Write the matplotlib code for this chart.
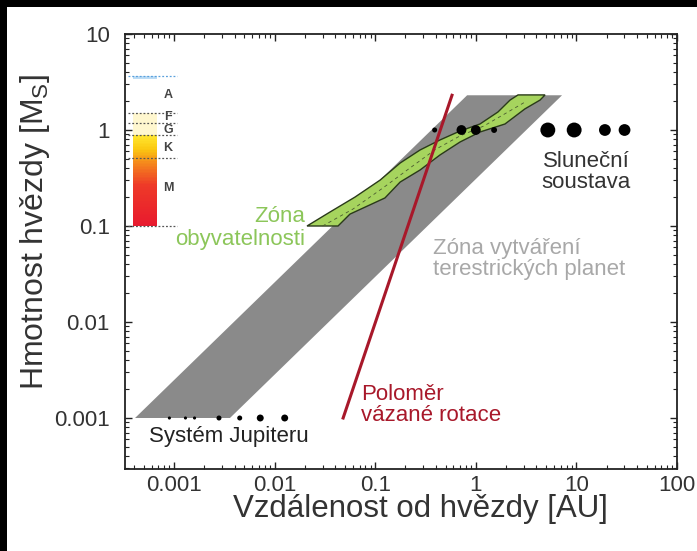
import numpy as np
import matplotlib
matplotlib.use("Agg")
import matplotlib.pyplot as plt
from matplotlib.colors import LinearSegmentedColormap
from matplotlib.patches import Rectangle

plt.rcParams['font.family'] = ['Liberation Sans', 'DejaVu Sans']

# ---------------- data ----------------
# terrestrial planet formation zone (parallelogram) [AU, Msun]
band_x = [0.00041, 0.0036, 7.2, 0.82]
band_y = [0.001, 0.001, 2.3, 2.3]

# habitable zone outline
hz_x = [0.0210, 0.0356, 0.0629, 0.112, 0.177, 0.279, 0.440, 0.697, 1.10, 1.66, 2.19, 2.63, 4.88,
        4.35, 3.08, 1.95, 1.10, 0.697, 0.440, 0.279, 0.177, 0.125, 0.0561, 0.0427]
hz_y = [0.100, 0.140, 0.200, 0.301, 0.453, 0.619, 0.787, 0.976, 1.155, 1.54, 2.05, 2.32, 2.32,
        2.05, 1.66, 1.155, 0.953, 0.750, 0.549, 0.383, 0.287, 0.196, 0.133, 0.100]
hz_mid_x = [0.03, 0.06, 0.12, 0.22, 0.4, 0.7, 1.2, 2.0, 3.2]
hz_mid_y = [0.1, 0.15, 0.25, 0.40, 0.63, 0.87, 1.10, 1.50, 2.0]

# tidal locking radius
tidal_x = [0.048, 0.58]
tidal_y = [0.001, 2.3]

# Solar system planets (AU), at 1 Msun
sol_x = [0.39, 0.72, 1.0, 1.52, 5.2, 9.5, 19.2, 30.1]
sol_y = [1, 1, 1, 1, 1, 1, 1, 1]
sol_s = [13, 50, 50, 18, 115, 115, 72, 72]

# Jupiter system moons (AU), at 0.001 Msun
jup_x = [0.0009, 0.0013, 0.0016, 0.0028, 0.0045, 0.0072, 0.0126]
jup_y = [0.001] * 7
jup_s = [5, 5, 5, 13, 13, 25, 25]

# stellar spectral classes
class_lines = [3.65, 1.50, 1.18, 0.89, 0.51, 0.1]
class_labels = ['A', 'F', 'G', 'K', 'M']
class_label_y = [2.3, 1.36, 1.0, 0.65, 0.25]
bar_x = [0.00039, 0.00067]
bar_y = [0.1, 0.89]

xticks = [0.001, 0.01, 0.1, 1, 10, 100]
xticklabels = ['0.001', '0.01', '0.1', '1', '10', '100']
yticks = [0.001, 0.01, 0.1, 1, 10]
yticklabels = ['0.001', '0.01', '0.1', '1', '10']

# ---------------- figure ----------------
fig = plt.figure(figsize=(6.97, 5.51), dpi=100)
fig.patch.set_facecolor('white')
# black border strips (left and top)
fig.patches.append(Rectangle((0, 0), 7 / 697, 1, transform=fig.transFigure,
                             facecolor='black', edgecolor='none', zorder=-10))
fig.patches.append(Rectangle((0, 1 - 7 / 551), 1, 7 / 551, transform=fig.transFigure,
                             facecolor='black', edgecolor='none', zorder=-10))

ax = fig.add_axes([125 / 697, 1 - 469 / 551, (677 - 125) / 697, (469 - 34) / 551])
ax.set_xscale('log')
ax.set_yscale('log')
ax.set_xlim(10 ** (-3 - 49 / 100.6), 100)
ax.set_ylim(10 ** (-3 - 51 / 96), 10)

# gray band
ax.fill(band_x, band_y, color='#8a8a8a', lw=0, zorder=1)

# habitable zone
ax.fill(hz_x, hz_y, facecolor='#a6d45e', edgecolor='#2a3a1a', lw=1.0, zorder=2)
ax.plot(hz_mid_x, hz_mid_y, color='#4a5a30', lw=0.6, ls=(0, (4, 4)), zorder=3)

# tidal locking line
ax.plot(tidal_x, tidal_y, color='#a8182a', lw=2.2, zorder=4)

# planets and moons
ax.scatter(sol_x, sol_y, s=sol_s, color='black', zorder=5, lw=0)
ax.scatter(jup_x, jup_y, s=jup_s, color='black', zorder=5, lw=0)

# spectral class bar
cmap = LinearSegmentedColormap.from_list(
    'star', [(0.0, '#e81a2e'), (0.45, '#ee3a28'), (0.7, '#f58a1c'), (0.85, '#fbc810'), (1.0, '#ffe630')])
yy = np.logspace(np.log10(bar_y[0]), np.log10(bar_y[1]), 60)
xx = np.array(bar_x)
C = np.linspace(0, 1, len(yy) - 1).reshape(-1, 1)
ax.pcolormesh(xx, yy, C, cmap=cmap, shading='flat', zorder=3)
ax.fill_between(bar_x, [bar_y[1]] * 2, [class_lines[1]] * 2, color='#fff3b0', alpha=0.6, lw=0, zorder=3)
ax.fill_between(bar_x, [class_lines[0] * 0.93] * 2, [class_lines[0]] * 2, color='#bcdcf5', lw=0, zorder=3)
for i, yv in enumerate(class_lines):
    col = '#5aa0dc' if i == 0 else '#555555'
    ax.plot([0.00035, 0.00107], [yv, yv], color=col, lw=0.9, ls=(0, (1.5, 1.5)), zorder=4)
for lab, yv in zip(class_labels, class_label_y):
    ax.text(0.00087, yv, lab, fontsize=9, fontweight='bold', color='#444444',
            ha='center', va='center', zorder=6)

# text labels
ax.text(0.0199, 0.095, 'Zóna\nobyvatelnosti', color='#8cc65a', fontsize=16,
        ha='right', va='center', multialignment='right', linespacing=1.1, zorder=6)
ax.text(0.375, 0.0453, 'Zóna vytváření\nterestrických planet', color='#a8a8a8', fontsize=16,
        ha='left', va='center', linespacing=1.05, zorder=6)
ax.text(12.5, 0.366, 'Sluneční\nsoustava', color='#333333', fontsize=16,
        ha='center', va='center', linespacing=1.05, zorder=6)
ax.text(0.00352, 0.00064, 'Systém Jupiteru', color='#222222', fontsize=16,
        ha='center', va='center', zorder=6)
ax.text(0.0717, 0.00137, 'Poloměr\nvázané rotace', color='#a8182a', fontsize=16,
        ha='left', va='center', linespacing=1.0, zorder=6)

# axes styling
ax.set_xticks(xticks)
ax.set_xticklabels(xticklabels)
ax.set_yticks(yticks)
ax.set_yticklabels(yticklabels)
ax.tick_params(which='both', direction='in', top=True, right=True, colors='#222222',
               labelsize=16, labelcolor='#333333')
ax.tick_params(which='major', length=5, width=1)
ax.tick_params(axis='x', which='major', pad=4)
ax.tick_params(axis='y', which='major', pad=11)
ax.tick_params(which='minor', length=3, width=0.8)
ax.xaxis.set_minor_locator(matplotlib.ticker.LogLocator(base=10, subs=np.arange(2, 10)))
ax.yaxis.set_minor_locator(matplotlib.ticker.LogLocator(base=10, subs=np.arange(2, 10)))
ax.xaxis.set_minor_formatter(matplotlib.ticker.NullFormatter())
ax.yaxis.set_minor_formatter(matplotlib.ticker.NullFormatter())
for sp in ax.spines.values():
    sp.set_linewidth(1.3)
    sp.set_color('#222222')

ax.set_xlabel('Vzdálenost od hvězdy [AU]', fontsize=22.5, color='#333333')
ax.set_ylabel('Hmotnost hvězdy [M$_\\mathregular{S}$]', fontsize=23, color='#333333')
ax.xaxis.set_label_coords(0.535, -0.058, transform=ax.transAxes)
ax.yaxis.set_label_coords(-0.133, 0.545, transform=ax.transAxes)

fig.savefig('out.png', dpi=100)
